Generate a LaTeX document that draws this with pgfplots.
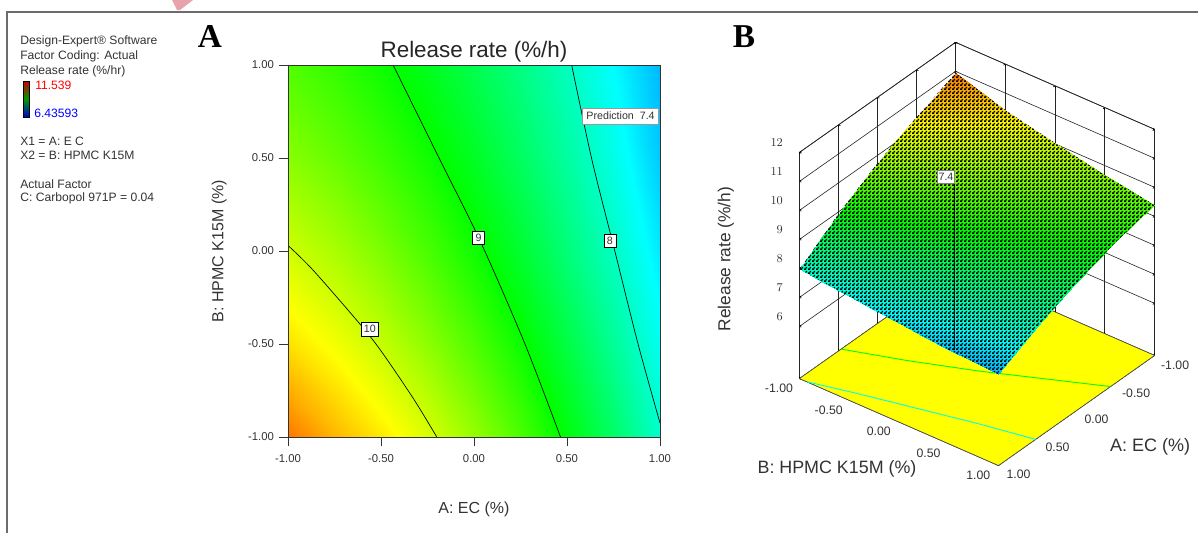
\documentclass[border=0pt]{standalone}
\usepackage{fontspec}
\setmainfont{Liberation Sans}
\newfontfamily\serifb{Liberation Serif}
\usepackage{pgfplots}
\usepackage{pgfplotstable}
\usetikzlibrary{patterns}
\pgfplotsset{compat=1.18}
\definecolor{txt}{HTML}{333333}
\definecolor{floory}{RGB}{255,255,0}
\definecolor{linec}{RGB}{0,255,235}
\pgfdeclarepatternformonly{meshdots}{\pgfqpoint{0pt}{0pt}}{\pgfqpoint{3pt}{3pt}}{\pgfqpoint{3pt}{3pt}}{%
  \pgfpathrectangle{\pgfqpoint{0pt}{0pt}}{\pgfqpoint{1.9pt}{1.6pt}}%
  \pgfpathrectangle{\pgfqpoint{1.5pt}{1.5pt}}{\pgfqpoint{1.5pt}{1.5pt}}%
  \pgfusepath{fill}}
\pgfplotstableread{
a b z
-1 -1 10.95
-0.75 -1 10.63
-0.5 -1 10.37
-0.25 -1 10.08
0 -1 9.74
0.25 -1 9.36
0.5 -1 8.94
0.75 -1 8.475
1 -1 7.97
-1 -0.75 10.68
-0.75 -0.75 10.42
-0.5 -0.75 10.17
-0.25 -0.75 9.885
0 -0.75 9.56
0.25 -0.75 9.20
0.5 -0.75 8.795
0.75 -0.75 8.355
1 -0.75 7.875
-1 -0.5 10.415
-0.75 -0.5 10.21
-0.5 -0.5 9.97
-0.25 -0.5 9.69
0 -0.5 9.38
0.25 -0.5 9.04
0.5 -0.5 8.65
0.75 -0.5 8.235
1 -0.5 7.78
-1 -0.25 10.22
-0.75 -0.25 10.02
-0.5 -0.25 9.79
-0.25 -0.25 9.52
0 -0.25 9.22
0.25 -0.25 8.89
0.5 -0.25 8.52
0.75 -0.25 8.12
1 -0.25 7.69
-1 0 10.03
-0.75 0 9.835
-0.5 0 9.61
-0.25 0 9.35
0 0 9.065
0.25 0 8.745
0.5 0 8.39
0.75 0 8.01
1 0 7.60
-1 0.25 9.85
-0.75 0.25 9.67
-0.5 0.25 9.455
-0.25 0.25 9.21
0 0.25 8.94
0.25 0.25 8.63
0.5 0.25 8.29
0.75 0.25 7.92
1 0.25 7.52
-1 0.5 9.67
-0.75 0.5 9.50
-0.5 0.5 9.30
-0.25 0.5 9.07
0 0.5 8.81
0.25 0.5 8.51
0.5 0.5 8.19
0.75 0.5 7.83
1 0.5 7.44
-1 0.75 9.53
-0.75 0.75 9.37
-0.5 0.75 9.175
-0.25 0.75 8.955
0 0.75 8.705
0.25 0.75 8.42
0.5 0.75 8.11
0.75 0.75 7.765
1 0.75 7.395
-1 1 9.39
-0.75 1 9.24
-0.5 1 9.05
-0.25 1 8.84
0 1 8.60
0.25 1 8.33
0.5 1 8.03
0.75 1 7.70
1 1 7.35
}\gridtable
\pgfplotstableread{
a b
-0.435 1
-0.183 0.49
0.035 0.05
0.274 -0.5
0.465 -1
}\ninetable
\pgfplotstableread{
a b
0.525 1
0.634 0.49
0.757 0
0.882 -0.5
1 -0.925
}\eighttable
\pgfplotstableread{
a b
-1 0.03
-0.866 -0.102
-0.624 -0.38
-0.505 -0.53
-0.328 -0.79
-0.2 -1
}\tentable
\pgfplotsset{
  decolor/.style={colormap={de}{rgb255(0cm)=(0,0,255); rgb255(1cm)=(0,255,255); rgb255(2cm)=(0,255,0); rgb255(3cm)=(255,255,0); rgb255(4cm)=(255,0,0)}},
}
\begin{document}
\begin{tikzpicture}[x=0.75pt,y=-0.75pt]
\useasboundingbox (0,0) rectangle (1198,533);
\fill[white] (0,0) rectangle (1198,533);
% frame and fragment
\fill[fill={rgb,255:red,231;green,163;blue,171}] (172,0) -- (193,0) -- (180,10) -- (177,10) -- cycle;
\draw[gray!85!black,line width=1.1pt] (1198,12) -- (7,12) -- (7,533);
% side text
\begin{scope}[every node/.style={anchor=west,inner sep=0pt,font=\fontsize{9.1pt}{10pt}\selectfont,text=txt}]
\node at (20,41.5) {Design-Expert® Software};
\node at (20,56.5) {Factor Coding: Actual};
\node at (20,71) {Release rate (\%/hr)};
\node[text=red] at (35,85) {11.539};
\node[text=blue] at (34,113) {6.43593};
\node at (20,141) {X1 = A: E C};
\node at (20,155) {X2 = B: HPMC K15M};
\node at (20,184) {Actual Factor};
\node at (20,198) {C: Carbopol 971P = 0.04};
\end{scope}
\shade[top color=red!80!black,bottom color=blue!80!black,middle color=green!60!black] (23,81) rectangle (29.5,117);
\draw[black,line width=0.5pt] (23,81) rectangle (29.5,117);
\node[font=\serifb\bfseries\fontsize{25pt}{25pt}\selectfont] at (210,36) {A};
\node[font=\serifb\bfseries\fontsize{25pt}{25pt}\selectfont] at (744,37) {B};
% contour plot
\begin{axis}[
  at={(216pt,-327.75pt)},anchor=south west,
  width=279pt,height=279pt,scale only axis,
  decolor,point meta min=6.43593,point meta max=11.539,
  xmin=-1,xmax=1,ymin=-1,ymax=1,
  xtick={-1,-0.5,0,0.5,1},ytick={-1,-0.5,0,0.5,1},
  xticklabels={-1.00,-0.50,0.00,0.50,1.00},
  yticklabels={-1.00,-0.50,0.00,0.50,1.00},
  tick align=outside,xtick pos=bottom,ytick pos=left,
  major tick length=7pt,
  tick style={black!80,line width=0.6pt},
  ticklabel style={font=\fontsize{8.5pt}{9pt}\selectfont,text=txt},
  xticklabel style={yshift=-3pt},
  axis line style={black!80,line width=0.7pt},
  axis on top,
  title={Release rate (\%/h)},
  title style={at={(axis description cs:0.5,1.04)},anchor=center,yshift=-7.5pt,font=\fontsize{16.8pt}{18pt}\selectfont,text=black!85},
  xlabel={A: EC (\%)},ylabel={B: HPMC K15M (\%)},
  xlabel style={at={(axis description cs:0.5,-0.194)},anchor=center,font=\fontsize{12pt}{13pt}\selectfont,text=txt},
  ylabel style={at={(axis description cs:-0.185,0.5)},anchor=center,rotate=0,font=\fontsize{12pt}{13pt}\selectfont,text=txt},
  clip=true,
]
\addplot[surf,shader=interp,mesh/rows=9,mesh/cols=9,point meta=\thisrow{z}] table[x=a,y=b]{\gridtable};
\addplot[black,line width=0.5pt,no marks,smooth,tension=0.5] table[x=a,y=b]{\ninetable};
\addplot[black,line width=0.5pt,no marks,smooth,tension=0.5] table[x=a,y=b]{\eighttable};
\addplot[black,line width=0.5pt,no marks,smooth,tension=0.5] table[x=a,y=b]{\tentable};
\begin{scope}[every node/.style={draw=black,fill=white,font=\fontsize{8pt}{9pt}\selectfont,inner sep=1.2pt,minimum height=10pt,text=txt,line width=0.4pt}]
\node[minimum width=9pt] at (axis cs:0.025,0.07) {9};
\node[minimum width=9pt] at (axis cs:0.73,0.055) {8};
\node[minimum width=13pt] at (axis cs:-0.56,-0.42) {10};
\node[draw=black!40,minimum width=57pt,minimum height=12pt] at (axis cs:0.788,0.726) {Prediction\ \ 7.4};
\end{scope}
\end{axis}
% 3D plot
\begin{axis}[
  at={(732.75pt,-275.25pt)},anchor=origin,
  x={(-58.5pt,-41.25pt)},y={(74.6pt,-32.6pt)},z={(0pt,21.75pt)},
  decolor,point meta min=6.43593,point meta max=11.539,
  xmin=-1,xmax=1,ymin=-1,ymax=1,zmin=4.2,zmax=12,
  xtick={-1,-0.5,0,0.5,1},ytick={-1,-0.5,0,0.5,1},ztick={6,7,8,9,10,11,12},
  xticklabels={-1.00,-0.50,0.00,0.50,1.00},
  yticklabels={-1.00,-0.50,0.00,0.50,1.00},
  grid=major,
  grid style={black!85,line width=0.45pt},
  axis line style={black!85,line width=0.5pt},
  tick style={black,line width=0.5pt},
  major tick length=1.5pt,
  ticklabel style={font=\fontsize{9.2pt}{10pt}\selectfont,text=txt},
  xticklabel style={xshift=8pt,yshift=4pt},
  yticklabel style={xshift=-10pt,yshift=3pt},
  zticklabel style={xshift=-9pt,yshift=8pt},
  clip=false,
]
\addplot3[fill=floory,draw=black!70,line width=0.4pt] coordinates {(-1,-1,4.2) (1,-1,4.2) (1,1,4.2) (-1,1,4.2) (-1,-1,4.2)};
\addplot3[green,line width=0.7pt,no marks] coordinates {(0.465,-1,4.2) (0.274,-0.5,4.2) (0.035,0.05,4.2) (-0.183,0.49,4.2) (-0.435,1,4.2)};
\addplot3[linec,line width=0.7pt,no marks] coordinates {(1,-0.925,4.2) (0.882,-0.5,4.2) (0.757,0,4.2) (0.634,0.49,4.2) (0.525,1,4.2)};
\addplot3[surf,shader=interp,mesh/rows=9,mesh/cols=9,point meta=z] table[x=a,y=b,z=z]{\gridtable};
\addplot3[pattern=meshdots,pattern color=black,draw=none] coordinates {
 (-1,-1,10.95) (-0.5,-1,10.37) (0,-1,9.74) (0.5,-1,8.94) (1,-1,7.97)
 (1,-0.5,7.78) (1,0,7.60) (1,0.5,7.44) (1,1,7.35)
 (0.5,1,8.03) (0,1,8.60) (-0.5,1,9.05) (-1,1,9.39)
 (-1,0.5,9.67) (-1,0,10.03) (-1,-0.5,10.415) (-1,-1,10.95)};
\addplot3[black,line width=0.6pt,no marks] coordinates {(-0.08,-0.29,4.2) (-0.08,-0.29,10.3)};
\end{axis}
\node[draw=black!50,fill=white,font=\fontsize{8pt}{9pt}\selectfont,inner sep=1pt,minimum height=9.5pt,text=txt] at (946,176.5) {7.4};
\node[font=\fontsize{13.5pt}{14pt}\selectfont,text=txt] at (1150,447) {A: EC (\%)};
\node[font=\fontsize{13.4pt}{14pt}\selectfont,text=txt] at (837,469) {B: HPMC K15M (\%)};
\node[font=\fontsize{13pt}{14pt}\selectfont,text=txt,rotate=90] at (726,259) {Release rate (\%/h)};
\end{tikzpicture}
\end{document}
